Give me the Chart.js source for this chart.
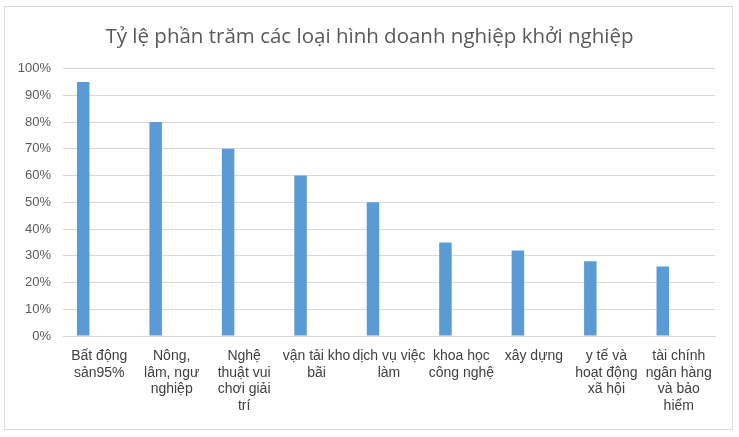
<!DOCTYPE html>
<html lang="vi">
<head>
<meta charset="utf-8">
<title>Tỷ lệ phần trăm các loại hình doanh nghiệp khởi nghiệp</title>
<script src="https://cdn.jsdelivr.net/npm/chart.js@4/dist/chart.umd.min.js"></script>
<style>
    html, body { margin: 0; padding: 0; background: #fff; }
    .wrap { position: relative; width: 739px; height: 437px; }
    .frame {
        position: absolute; left: 4px; top: 6px; width: 727px; height: 422px;
        border: 1px solid #d9d9d9; pointer-events: none;
    }
    canvas { position: absolute; left: 0; top: 0; }
</style>
</head>
<body>
<div class="wrap">
    <canvas id="startupChart" width="739" height="437"></canvas>
    <div class="frame"></div>
</div>
<script>
const chartTitle = 'Tỷ lệ phần trăm các loại hình doanh nghiệp khởi nghiệp';

const categories = [
    ['Bất động', 'sản95%'],
    ['Nông,', 'lâm, ngư', 'nghiệp'],
    ['Nghệ', 'thuật vui', 'chơi giải', 'trí'],
    ['vận tải kho', 'bãi'],
    ['dịch vụ việc', 'làm'],
    ['khoa học', 'công nghệ'],
    ['xây dựng'],
    ['y tế và', 'hoạt động', 'xã hội'],
    ['tài chính', 'ngân hàng', 'và bảo', 'hiểm']
];

// percent values
const shareValues = [95, 80, 70, 60, 50, 35, 32, 28, 26];
// Excel left an empty second series, which pushes the bars left of centre
const emptySeries = [null, null, null, null, null, null, null, null, null];

const yTicks = [0, 10, 20, 30, 40, 50, 60, 70, 80, 90, 100];

const gridColor = '#d9d9d9';
const textColor = '#595959';

new Chart(document.getElementById('startupChart'), {
    type: 'bar',
    data: {
        labels: categories,
        datasets: [{
            label: 'Tỷ lệ',
            data: shareValues,
            backgroundColor: '#5b9bd5',
            categoryPercentage: 0.884,
            barPercentage: 0.39
        }, {
            label: '',
            data: emptySeries,
            backgroundColor: '#ed7d31',
            categoryPercentage: 0.884,
            barPercentage: 0.39
        }]
    },
    options: {
        responsive: false,
        animation: false,
        layout: { padding: 0 },
        plugins: {
            legend: { display: false },
            tooltip: { enabled: false },
            title: {
                display: true,
                text: chartTitle,
                color: textColor,
                font: { family: 'Open Sans', size: 20.5, weight: 'normal', lineHeight: 1.2 },
                padding: { top: 25, bottom: 19 }
            }
        },
        scales: {
            x: {
                grid: { display: false, drawTicks: false },
                border: { display: true, color: gridColor },
                ticks: {
                    autoSkip: false,
                    maxRotation: 0,
                    minRotation: 0,
                    padding: 12,
                    color: '#404040',
                    font: { family: 'Liberation Sans', size: 14, lineHeight: 1.18 }
                },
                afterFit: (scale) => { scale.height = 101; }
            },
            y: {
                min: 0,
                max: 100,
                grid: { color: gridColor, drawTicks: false },
                border: { display: false },
                afterBuildTicks: (scale) => {
                    scale.ticks = yTicks.map((value) => ({ value }));
                },
                ticks: {
                    padding: 12,
                    color: textColor,
                    font: { family: 'Liberation Sans', size: 13 },
                    callback: (value) => `${value}%`
                },
                afterFit: (scale) => { scale.width = 63; }
            },
            // blank right-hand gutter so the title stays centred on the frame
            gutter: {
                position: 'right',
                grid: { display: false },
                border: { display: false },
                ticks: { display: false },
                afterFit: (scale) => { scale.width = 24; }
            }
        }
    }
});
</script>
</body>
</html>
